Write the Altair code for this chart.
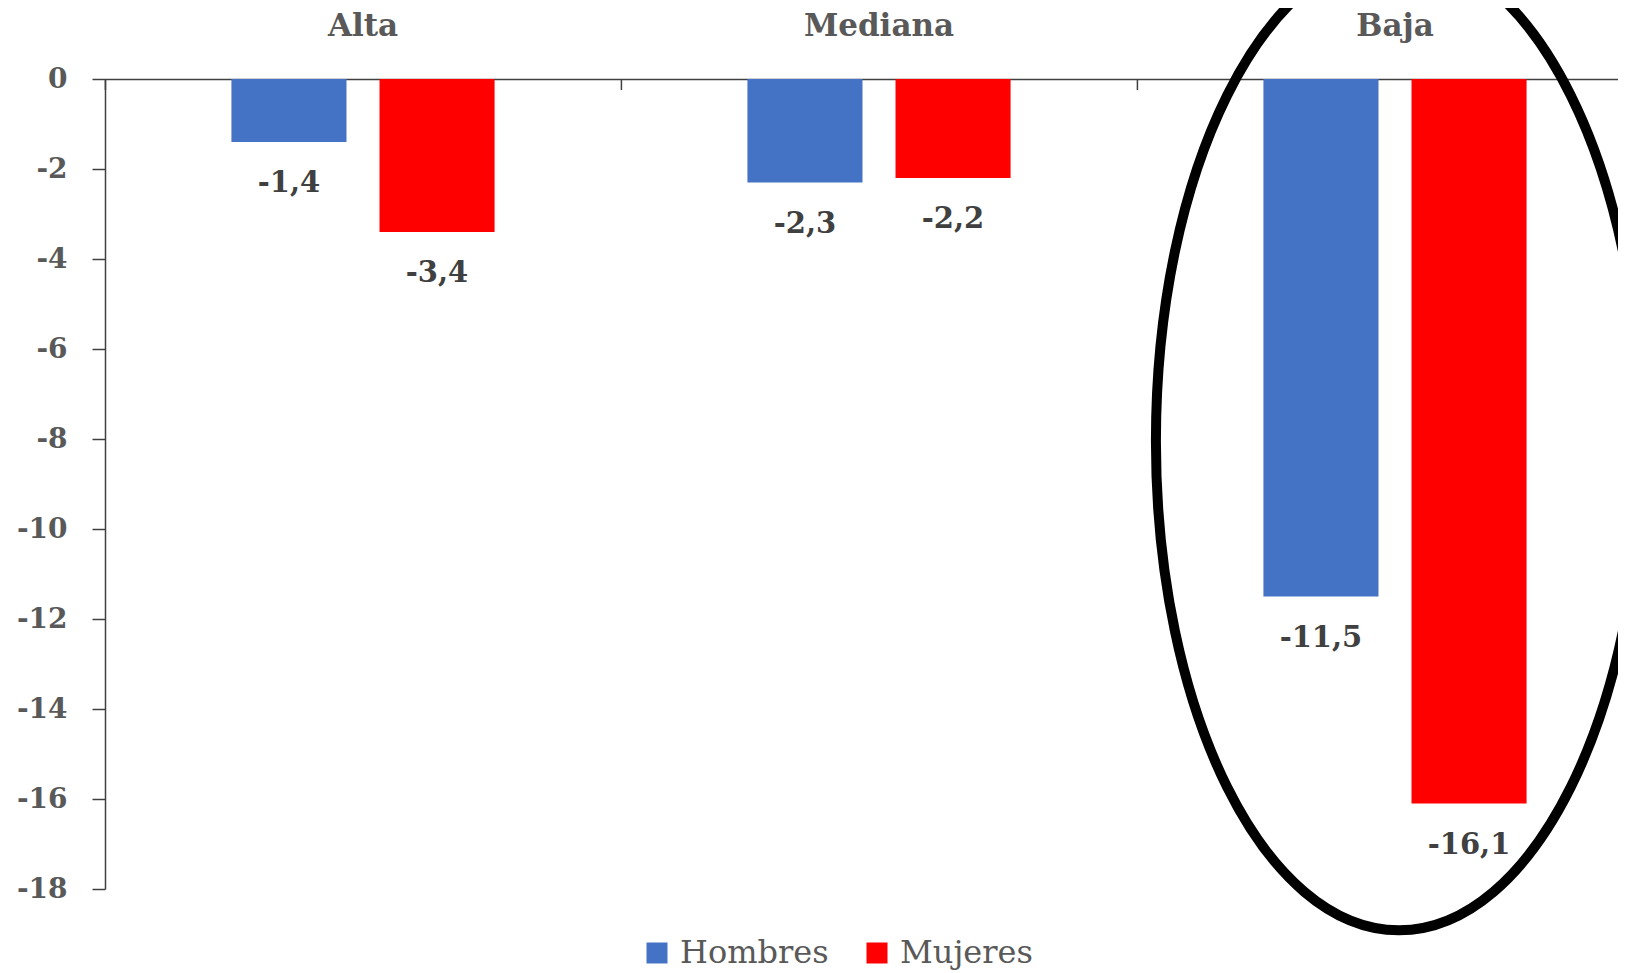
import altair as alt
import pandas as pd

categories = ["Alta", "Mediana", "Baja"]
series = ["Hombres", "Mujeres"]
hombres = [-1.4, -2.3, -11.5]
mujeres = [-3.4, -2.2, -16.1]
colors = ["#4472C4", "#FF0000"]
y_ticks = [0, -2, -4, -6, -8, -10, -12, -14, -16, -18]

# highlighted group (ellipse annotation)
highlight_cat = ["Baja"]
highlight_center = [-8.05]

rows = []
for i, c in enumerate(categories):
    rows.append({"cat": c, "sexo": series[0], "value": hombres[i]})
    rows.append({"cat": c, "sexo": series[1], "value": mujeres[i]})
df = pd.DataFrame(rows)
cat_df = pd.DataFrame({"cat": categories})
ell_df = pd.DataFrame({"cat": highlight_cat, "value": highlight_center})

FONT = "DejaVu Serif"
W, H = 1513, 810

xscale = alt.Scale(domain=categories, range=[0, 1548], paddingInner=0.49, paddingOuter=0.245)
yscale = alt.Scale(domain=[-18, 0], nice=False, zero=False)
xoff = alt.XOffset("sexo:N", sort=series, scale=alt.Scale(paddingInner=0.223, paddingOuter=0))

y_axis = alt.Axis(orient="left", title=None, values=y_ticks, grid=False,
                  tickSize=13, tickColor="#404040", tickWidth=1.5,
                  domainColor="#404040", domainWidth=1.5,
                  labelFont=FONT, labelFontSize=28, labelFontWeight="bold",
                  labelColor="#595959", labelPadding=25,
                  labelExpr="datum.value == 0 ? '0' : '-' + abs(datum.value)")

base = alt.Chart(df)

bars = base.mark_bar().encode(
    x=alt.X("cat:N", sort=categories, scale=xscale,
            axis=alt.Axis(orient="top", title=None, ticks=False, domain=True, grid=False,
                          domainColor="#404040", domainWidth=1.5,
                          labelFont=FONT, labelFontSize=31, labelFontWeight="bold",
                          labelColor="#595959", labelPadding=37, labelAngle=0)),
    xOffset=xoff,
    y=alt.Y("value:Q", scale=yscale, axis=y_axis),
    color=alt.Color("sexo:N", sort=series,
                    scale=alt.Scale(domain=series, range=colors),
                    legend=alt.Legend(title=None, orient="none", direction="horizontal",
                                      legendX=536, legendY=858,
                                      symbolType="square", symbolSize=441,
                                      symbolStrokeWidth=0, labelFont=FONT,
                                      labelFontSize=32, labelColor="#595959",
                                      labelOffset=7, columnPadding=32)),
)

labels = base.transform_calculate(
    label="replace(replace(format(datum.value, '.1f'), '.', ','), '\u2212', '-')"
).mark_text(dy=50, baseline="alphabetic", align="center", font=FONT, fontSize=29,
            fontWeight="bold", color="#404040").encode(
    x=alt.X("cat:N", sort=categories, scale=xscale),
    xOffset=xoff,
    y=alt.Y("value:Q", scale=yscale),
    text="label:N",
)

# small category-separator ticks hanging below the zero line
sep_ticks = alt.Chart(cat_df).mark_rule(color="#404040", strokeWidth=1.5).encode(
    x=alt.X("cat:N", sort=categories, scale=xscale, bandPosition=0),
    xOffset=alt.value(-126),
    y=alt.value(0),
    y2=alt.value(11),
)

ellipse_path = ("M0.497,0 C0.497,0.5523 0.2745,1 0,1 C-0.2745,1 -0.497,0.5523 -0.497,0 "
                "C-0.497,-0.5523 -0.2745,-1 0,-1 C0.2745,-1 0.497,-0.5523 0.497,0 Z")
ellipse = alt.Chart(ell_df).mark_point(
    shape=ellipse_path, filled=False, stroke="black", strokeWidth=10, opacity=1,
    size=956484,
).encode(
    x=alt.X("cat:N", sort=categories, scale=xscale, bandPosition=0.515),
    y=alt.Y("value:Q", scale=yscale),
)

chart = alt.layer(bars, labels, sep_ticks, ellipse).properties(
    width=W, height=H,
    background="white",
    autosize=alt.AutoSizeParams(type="none"),
    padding={"left": 97, "top": 71, "right": 0, "bottom": 84},
).configure_view(stroke="transparent", strokeWidth=0).configure_axis(grid=False)

chart.save("out.html", embed_options={"renderer": "svg", "actions": False})
